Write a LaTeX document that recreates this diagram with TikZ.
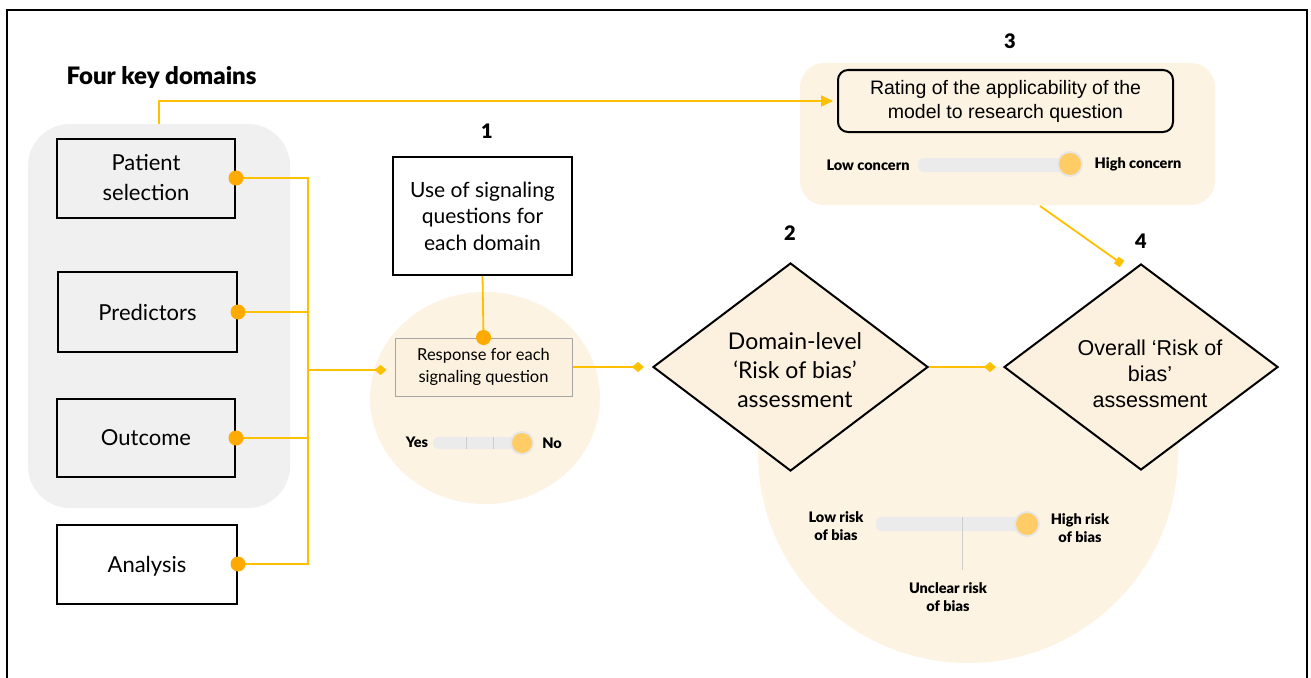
\documentclass[tikz,border=0pt]{standalone}
\usepackage{fontspec}
\setmainfont{Lato}
\newfontfamily\arialf{Liberation Sans}
\newfontfamily\latoblack{Lato Black}
\usetikzlibrary{shapes.geometric,arrows.meta,calc}
\definecolor{lineor}{HTML}{FFC000}
\definecolor{dotor}{HTML}{FFAA00}
\definecolor{beige}{HTML}{FDF3E3}
\definecolor{beigeb}{HTML}{FCF1DF}
\definecolor{greyreg}{HTML}{F0F0F0}
\definecolor{trackc}{HTML}{EBEBEB}
\definecolor{knobc}{HTML}{FFCC66}
\definecolor{ringc}{HTML}{E6E6E6}
\tikzset{
  dombox/.style={draw=black,line width=2pt,minimum width=178pt,minimum height=79pt,inner sep=0pt,align=center,font=\fontsize{22}{30}\selectfont},
  orline/.style={draw=lineor,line width=1.8pt},
  dotmark/.style={fill=dotor,circle,inner sep=0pt,minimum size=15pt},
  dtip/.style={-{Diamond[length=12pt,width=10pt]}},
  numlab/.style={font=\latoblack\fontsize{20}{22}\selectfont},
  slab/.style={font=\latoblack\fontsize{14.5}{18}\selectfont,align=center},
  diam/.style={diamond,draw=black,line width=2pt,fill=beigeb,inner sep=0pt,aspect=1.32},
  track/.style={fill=trackc,rounded corners=5pt},
}
\begin{document}
\begin{tikzpicture}[x=1pt,y=-1pt]
\useasboundingbox (0,0) rectangle (1311,677);
\fill[white] (0,0) rectangle (1311,677);
% frame
\draw[line width=2pt] (7,10) rectangle (1307,720);

% big beige region behind diamonds
\fill[beige] (758,367) -- (1178,367) -- (1178,453) arc[start angle=0,end angle=-180,radius=210pt] -- cycle;
% small beige circle
\fill[beige] (485,398) ellipse[x radius=115pt,y radius=106pt];

% grey region
\node[fill=greyreg,rounded corners=42pt,minimum width=262pt,minimum height=384pt,inner sep=0pt] (dom) at (159,316) {};

\node[font=\latoblack\fontsize{24}{26}\selectfont,anchor=west] (fkd) at (63,77) {Four key domains};

% domain boxes
\node[dombox] (ps) at (146,178) {Patient\\selection};
\node[dombox,minimum width=179pt,minimum height=80pt] (pr) at (147.5,312) {Predictors};
\node[dombox,minimum height=78pt] (oc) at (146,438) {Outcome};
\node[dombox,minimum width=180pt,fill=white,text depth=-2pt] (an) at (147,564) {Analysis};

% step 1
\node[numlab] (n1) at (487,131) {1};
\node[draw=black,line width=2pt,minimum width=179pt,minimum height=118pt,inner sep=0pt,align=center,font=\fontsize{21}{26.5}\selectfont] (use) at (482.5,216) {Use of signaling\\questions for\\each domain};
\node[draw=black!35,line width=1pt,fill=beigeb,minimum width=177pt,minimum height=58pt,inner sep=0pt,align=center,font=\fontsize{16.5}{22}\selectfont] (resp) at (483.5,367) {Response for each\\signaling question};

% bus
\coordinate (bus) at (308,370);
\foreach \b in {ps,pr,oc,an}{
  \draw[orline] (\b.east) -| (bus);
}
\draw[orline,dtip,fill=lineor,shorten >=8pt] (bus) -- (bus -| resp.west);
\foreach \b in {ps,pr,oc,an}{
  \node[dotmark] at (\b.east) {};
}
\draw[orline] (use.south) -- (resp.north);
\node[dotmark] at (resp.north) {};

% yes/no slider
\node[slab] (yes) at (417,442) {Yes};
\node[slab] (no) at (552,443) {No};
\fill[track] (433,437) rectangle (525,449);
\draw[black!20,line width=0.6pt] (466,437) -- (466,449) (493,437) -- (493,449);
\fill[ringc] (522,443) circle[radius=12pt];
\fill[knobc] (522,443) circle[radius=10pt];

% step 2 & 4 diamonds
\node[numlab] (n2) at (790,233) {2};
\node[diam,minimum width=275pt,minimum height=208pt] (d2) at (790.5,367) {};
\node[align=center,font=\fontsize{23}{29}\selectfont] (t2) at (795,370) {Domain-level\\‘Risk of bias’\\assessment};
\node[numlab] (n4) at (1141,241) {4};
\node[diam,minimum width=274pt,minimum height=206pt] (d4) at (1141,367) {};
\node[align=center,font=\arialf\fontsize{21.5}{26}\selectfont] (t4) at (1150,374) {Overall ‘Risk of\\bias’\\assessment};
\draw[orline,dtip,fill=lineor,shorten >=7pt] (d2.east) -- (d4.west);
\draw[orline,dtip,fill=lineor,shorten >=8pt] (resp.east) -- (resp.east -| d2.west);

% risk slider
\fill[track] (876,517) rectangle (1030,531);
\draw[black!20,line width=0.8pt] (962,517) -- (962,570);
\fill[ringc] (1027,524) circle[radius=13pt];
\fill[knobc] (1027,524) circle[radius=11pt];
\node[slab] (low) at (836,526) {Low risk\\of bias};
\node[slab] (high) at (1080,528) {High risk\\of bias};
\node[slab] (uncl) at (948,597) {Unclear risk\\of bias};

% step 3
\node[numlab] (n3) at (1010,41) {3};
\node[fill=beige,rounded corners=24pt,minimum width=415pt,minimum height=142pt,inner sep=0pt] (reg3) at (1007.5,134) {};
\node[draw=black,line width=2pt,rounded corners=10pt,minimum width=335pt,minimum height=62pt,inner sep=0pt,align=center,font=\arialf\fontsize{19.5}{24}\selectfont] (rating) at (1005.5,101) {Rating of the applicability of the\\model to research question};
\fill[track] (918,158) rectangle (1075,172);
\fill[ringc] (1070,164) circle[radius=13pt];
\fill[knobc] (1070,164) circle[radius=11pt];
\node[slab] (lc) at (868,165) {Low concern};
\node[slab] (hc) at (1138,164) {High concern};

% arrows
\draw[orline,-{Triangle[length=12pt,width=11pt]},shorten >=4pt] (dom.north) |- (rating.west);
\coordinate (r3out) at (1040,206);
\coordinate (d4in) at (1122,264);
\draw[orline,-{Square[length=7pt,width=8pt]}] (r3out) -- (d4in);
\end{tikzpicture}
\end{document}
